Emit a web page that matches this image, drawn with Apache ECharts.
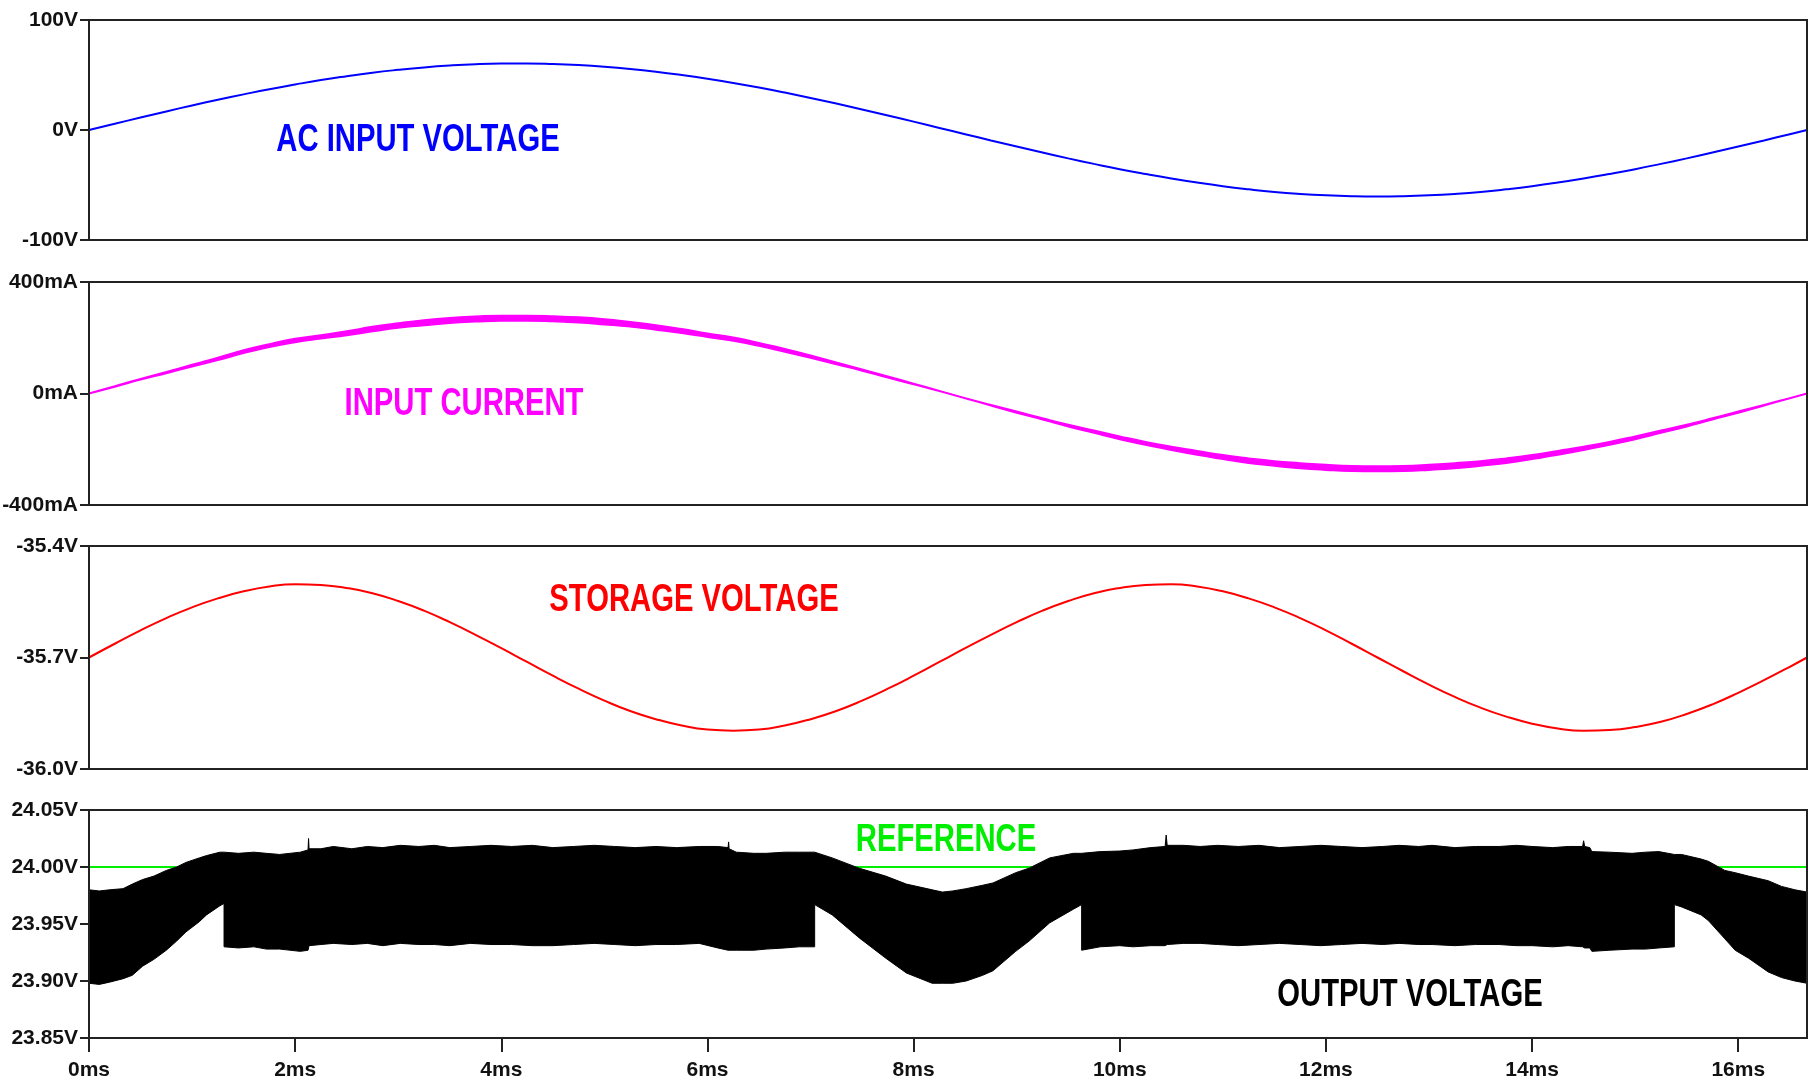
<!DOCTYPE html>
<html><head><meta charset="utf-8">
<script src="https://cdn.jsdelivr.net/npm/echarts@6/dist/echarts.min.js"></script>
<style>html,body{margin:0;padding:0;background:#fff}#c{width:1812px;height:1083px}</style>
</head><body><div id="c"></div>
<script>
// ---------- data ----------
const timeMs = [0,0.25,0.5,0.75,1,1.25,1.5,1.75,2,2.25,2.5,2.75,3,3.25,3.5,3.75,4,4.25,4.5,4.75,5,5.25,5.5,5.75,6,6.25,6.5,6.75,7,7.25,7.5,7.75,8,8.25,8.5,8.75,9,9.25,9.5,9.75,10,10.25,10.5,10.75,11,11.25,11.5,11.75,12,12.25,12.5,12.75,13,13.25,13.5,13.75,14,14.25,14.5,14.75,15,15.25,15.5,15.75,16,16.25,16.5,16.667];
const acInputVolts = [0,5.7,11.3,16.9,22.3,27.5,32.4,37.1,41.4,45.4,48.9,52.1,54.7,56.9,58.6,59.8,60.4,60.5,60.0,59.0,57.5,55.5,53.0,50.0,46.6,42.8,38.6,34.0,29.1,24.0,18.7,13.2,7.6,1.9,-3.8,-9.5,-15.0,-20.5,-25.8,-30.8,-35.6,-40.0,-44.1,-47.8,-51.1,-53.9,-56.3,-58.1,-59.4,-60.2,-60.5,-60.2,-59.4,-58.1,-56.3,-53.9,-51.1,-47.8,-44.1,-40.0,-35.6,-30.8,-25.8,-20.5,-15.0,-9.5,-3.8,0];
const inputCurrentUpperMa = [1,27,53,78,104,129,156,178,197,210,224,240,253,264,272,277,280,280,278,274,267,257,246,232,216,202,182,161,137,112,87,62,36,10,-16,-40,-64,-88,-111,-132,-153,-173,-190,-205,-220,-232,-242,-249,-255,-259,-260,-259,-255,-249,-242,-232,-220,-205,-190,-173,-153,-132,-111,-88,-64,-40,-16,1];
const inputCurrentLowerMa = [-1,23,49,72,96,119,144,166,183,196,208,222,235,244,252,257,260,260,258,254,247,239,228,216,202,188,170,149,127,104,81,56,32,8,-18,-44,-70,-94,-119,-142,-165,-185,-204,-221,-236,-250,-260,-269,-275,-279,-280,-279,-275,-269,-260,-250,-236,-221,-204,-185,-165,-142,-119,-94,-70,-44,-18,-1];
const storageVolts = [-35.700,-35.663,-35.627,-35.594,-35.565,-35.541,-35.522,-35.509,-35.503,-35.505,-35.513,-35.527,-35.548,-35.574,-35.605,-35.639,-35.675,-35.712,-35.749,-35.784,-35.816,-35.844,-35.866,-35.883,-35.894,-35.897,-35.894,-35.883,-35.866,-35.844,-35.816,-35.784,-35.749,-35.712,-35.675,-35.639,-35.605,-35.574,-35.548,-35.527,-35.513,-35.505,-35.503,-35.509,-35.522,-35.541,-35.565,-35.594,-35.627,-35.663,-35.700,-35.737,-35.773,-35.806,-35.835,-35.859,-35.878,-35.891,-35.897,-35.895,-35.887,-35.873,-35.852,-35.826,-35.795,-35.761,-35.725,-35.700];

const outTimeMs = [0,0.1,0.2,0.33,0.42,0.52,0.63,0.75,0.85,0.94,1.07,1.14,1.27,1.31,1.31,1.45,1.6,1.72,1.85,2.05,2.125,2.13,2.135,2.25,2.37,2.55,2.7,2.85,3.02,3.2,3.35,3.5,3.7,3.9,4.1,4.3,4.5,4.7,4.9,5.1,5.3,5.5,5.7,5.92,6.1,6.2,6.205,6.21,6.28,6.45,6.57,6.75,6.89,7.04,7.04,7.21,7.47,7.73,7.93,8.18,8.28,8.38,8.51,8.67,8.77,8.99,9.12,9.32,9.55,9.63,9.63,9.81,10,10.13,10.3,10.44,10.45,10.46,10.62,10.78,10.95,11.15,11.35,11.55,11.75,11.95,12.15,12.35,12.55,12.71,12.9,13.03,13.25,13.45,13.68,13.85,14,14.2,14.35,14.49,14.5,14.51,14.56,14.58,14.75,14.97,15.1,15.23,15.38,15.38,15.45,15.64,15.71,15.87,15.97,16.1,16.29,16.42,16.55,16.667];
const outUpperVolts = [23.980,23.979,23.980,23.981,23.985,23.989,23.992,23.997,24.000,24.004,24.008,24.010,24.013,24.013,24.013,24.012,24.013,24.012,24.011,24.013,24.015,24.025,24.016,24.016,24.018,24.016,24.018,24.017,24.019,24.018,24.019,24.017,24.018,24.019,24.018,24.019,24.017,24.018,24.019,24.018,24.017,24.018,24.017,24.018,24.018,24.017,24.022,24.016,24.013,24.012,24.012,24.013,24.013,24.013,24.013,24.008,23.999,23.992,23.985,23.980,23.978,23.979,23.981,23.984,23.986,23.995,23.999,24.008,24.012,24.012,24.012,24.0135,24.014,24.015,24.017,24.018,24.028,24.019,24.019,24.018,24.019,24.018,24.019,24.017,24.018,24.019,24.018,24.017,24.018,24.019,24.018,24.019,24.017,24.018,24.018,24.019,24.018,24.017,24.018,24.018,24.023,24.018,24.017,24.0135,24.013,24.012,24.013,24.0135,24.011,24.011,24.011,24.007,24.005,23.997,23.995,23.992,23.988,23.983,23.980,23.978];
const outLowerVolts = [23.898,23.897,23.899,23.902,23.905,23.913,23.919,23.927,23.935,23.943,23.952,23.958,23.966,23.968,23.930,23.929,23.930,23.928,23.928,23.926,23.927,23.929,23.931,23.932,23.933,23.932,23.933,23.931,23.933,23.932,23.932,23.931,23.933,23.932,23.932,23.931,23.931,23.932,23.933,23.932,23.931,23.932,23.932,23.933,23.929,23.927,23.927,23.927,23.927,23.927,23.928,23.929,23.930,23.930,23.967,23.958,23.938,23.920,23.907,23.898,23.898,23.898,23.900,23.905,23.909,23.926,23.935,23.951,23.963,23.967,23.927,23.930,23.931,23.930,23.931,23.931,23.931,23.932,23.933,23.933,23.932,23.931,23.932,23.933,23.932,23.931,23.932,23.933,23.932,23.933,23.932,23.932,23.931,23.932,23.932,23.931,23.931,23.930,23.931,23.930,23.930,23.929,23.929,23.926,23.927,23.928,23.928,23.929,23.930,23.967,23.965,23.958,23.953,23.937,23.927,23.920,23.908,23.903,23.900,23.898];
const referenceVolts = 24.00;

const xTickValues = [0,2,4,6,8,10,12,14,16];
const xTickLabels = ['0ms','2ms','4ms','6ms','8ms','10ms','12ms','14ms','16ms'];
const xMax = 16.667;

const annotations = [
  {text:'AC INPUT VOLTAGE', color:'#0000ff'},
  {text:'INPUT CURRENT', color:'#ff00ff'},
  {text:'STORAGE VOLTAGE', color:'#ff0000'},
  {text:'REFERENCE', color:'#00ee00'},
  {text:'OUTPUT VOLTAGE', color:'#000000'}
];

// ---------- chart ----------
const FONT = "'Liberation Sans',Arial,sans-serif";
const frame = '#222';
const pts = (xs, ys) => xs.map((x,i)=>[x, ys[i]]);

const gridBoxes = [
  {left:89, width:1718, top:20, height:220},
  {left:89, width:1718, top:282, height:223},
  {left:89, width:1718, top:546, height:223},
  {left:89, width:1718, top:810, height:228}
];
const grids = gridBoxes.map(g => Object.assign({}, g, {show:false, outerBoundsMode:'none', containLabel:false}));

const xAxes = [0,1,2,3].map(i => ({
  type:'value', gridIndex:i, min:0, max:xMax,
  axisLine:{show:false}, splitLine:{show:false},
  axisTick: i===3 ? {show:true, customValues:xTickValues, length:14, lineStyle:{color:frame,width:2}} : {show:false},
  axisLabel: i===3 ? {show:true, customValues:xTickValues, margin:22, fontSize:21, fontWeight:'bold', fontFamily:FONT, color:'#111',
      formatter:(v)=>{const k=xTickValues.indexOf(v); return k>=0?xTickLabels[k]:'';}} : {show:false}
}));

const yCommon = (i, min, max, interval, fmt) => ({
  type:'value', gridIndex:i, min, max, interval,
  axisLine:{show:false}, splitLine:{show:false},
  axisTick:{show:true, length:9, lineStyle:{color:frame,width:2}},
  axisLabel:{margin:11, fontSize:21, fontWeight:'bold', fontFamily:FONT, color:'#111', formatter:fmt, showMinLabel:true, showMaxLabel:true}
});
const yAxes = [
  yCommon(0, -100, 100, 100, v => Math.round(v)+'V'),
  yCommon(1, -400, 400, 400, v => Math.round(v)+'mA'),
  yCommon(2, -36.0, -35.4, 0.3, v => v.toFixed(1)+'V'),
  yCommon(3, 23.85, 24.05, 0.05, v => v.toFixed(2)+'V')
];

const base = {type:'line', symbol:'none', silent:true, animation:false};
const series = [
  Object.assign({}, base, {xAxisIndex:0, yAxisIndex:0, smooth:true, data:pts(timeMs, acInputVolts), lineStyle:{color:'#0000ff', width:2}}),
  // input current band: upper envelope filled down, then lower envelope filled white
  Object.assign({}, base, {xAxisIndex:1, yAxisIndex:1, smooth:true, z:2, data:pts(timeMs, inputCurrentUpperMa),
      lineStyle:{color:'#ff00ff', width:1.5}, areaStyle:{color:'#ff00ff', opacity:1, origin:'start'}}),
  Object.assign({}, base, {xAxisIndex:1, yAxisIndex:1, smooth:true, z:3, data:pts(timeMs, inputCurrentLowerMa),
      lineStyle:{color:'#ff00ff', width:1.5}, areaStyle:{color:'#ffffff', opacity:1, origin:'start'}}),
  Object.assign({}, base, {xAxisIndex:2, yAxisIndex:2, smooth:true, data:pts(timeMs, storageVolts), lineStyle:{color:'#ff0000', width:2}}),
  Object.assign({}, base, {xAxisIndex:3, yAxisIndex:3, z:1, data:[[0,referenceVolts],[xMax,referenceVolts]], lineStyle:{color:'#00ee00', width:2}}),
  Object.assign({}, base, {xAxisIndex:3, yAxisIndex:3, z:2, data:pts(outTimeMs, outUpperVolts),
      lineStyle:{color:'#000', width:1}, areaStyle:{color:'#000', opacity:1, origin:'start'}}),
  Object.assign({}, base, {xAxisIndex:3, yAxisIndex:3, z:3, data:pts(outTimeMs, outLowerVolts),
      lineStyle:{color:'#000', width:1}, areaStyle:{color:'#ffffff', opacity:1, origin:'start'}})
];

const annPos = [[418,140],[464,404],[694,600],[946,840],[1410,995]];
const graphic = annotations.map((a,i)=>({
  type:'text', x:annPos[i][0], y:annPos[i][1], scaleX:0.75, z:100, silent:true,
  style:{text:a.text, fill:a.color, font:"bold 39px "+FONT, align:'center', verticalAlign:'middle'}
})).concat(gridBoxes.map(g => ({
  type:'rect', z:90, silent:true,
  shape:{x:g.left, y:g.top, width:g.width, height:g.height},
  style:{fill:'none', stroke:frame, lineWidth:2}
})));

const chart = echarts.init(document.getElementById('c'), null, {renderer:'canvas'});
chart.setOption({animation:false, backgroundColor:'#fff', grid:grids, xAxis:xAxes, yAxis:yAxes, series, graphic});
</script></body></html>
